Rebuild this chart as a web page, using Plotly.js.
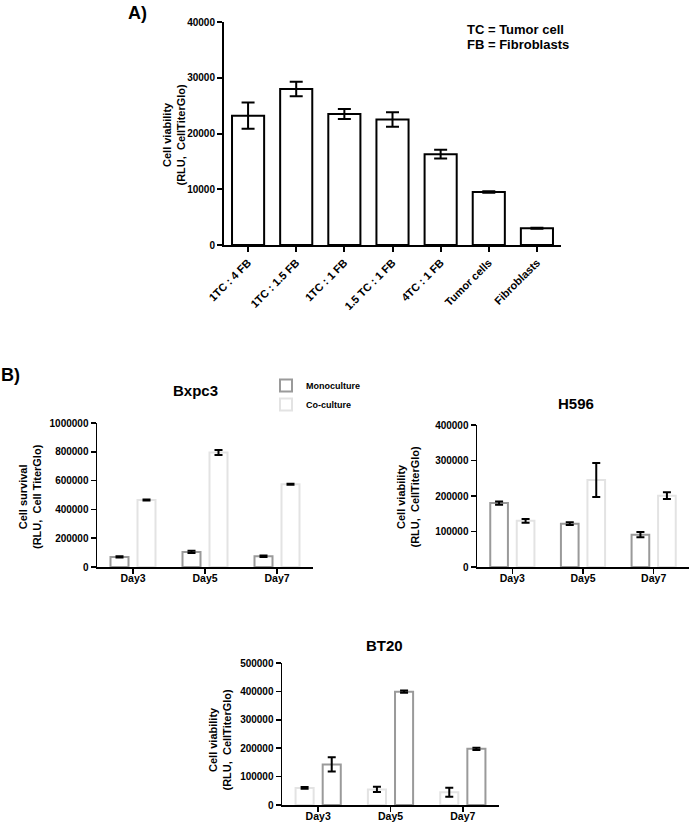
<!DOCTYPE html>
<html>
<head>
<meta charset="utf-8">
<script src="https://cdn.plot.ly/plotly-3.0.1.min.js"></script>
<style>html,body{margin:0;padding:0;background:#fff}#chart{width:691px;height:822px}</style>
</head>
<body>
<div id="chart"></div>
<script>
// ---- Data ----
const ratioCategories = ['1TC : 4 FB', '1TC : 1.5 FB', '1TC : 1 FB', '1.5 TC : 1 FB', '4TC : 1 FB', 'Tumor cells', 'Fibroblasts'];
const ratioValues = [23200, 28000, 23500, 22500, 16300, 9500, 3000];
const ratioErrors = [2350, 1300, 900, 1300, 800, 150, 100];

const days = ['Day3', 'Day5', 'Day7'];

const bxpc3Mono = [70000, 105000, 75000];
const bxpc3MonoErr = [4000, 8000, 5000];
const bxpc3Co = [465000, 795000, 575000];
const bxpc3CoErr = [4000, 18000, 3000];

const h596Mono = [180000, 122000, 91000];
const h596MonoErr = [4500, 4000, 7500];
const h596Co = [130000, 245000, 201000];
const h596CoErr = [5000, 48000, 9500];

const bt20First = [60000, 55000, 45000];
const bt20FirstErr = [3000, 9000, 16000];
const bt20Second = [143000, 399000, 198000];
const bt20SecondErr = [25000, 4000, 4000];

// ---- Helpers ----
const W = 691, H = 822;
const FONT = 'Liberation Sans, Arial, sans-serif';
const px = v => v / W;
const py = v => 1 - v / H;
const DARK = '#9a9a9a', LIGHT = '#e3e3e3';

function groupBar(x, y, err, color, xa, ya, offset, name, showlegend) {
  return {
    type: 'bar', x: x, y: y, xaxis: xa, yaxis: ya, name: name, showlegend: showlegend,
    width: 0.25, offset: offset,
    marker: {color: 'rgba(255,255,255,0)', line: {color: color, width: 2}},
    error_y: {type: 'data', array: err, visible: true, color: '#000', thickness: 2, width: 4}
  };
}

const traces = [
  {
    type: 'bar', x: ratioCategories, y: ratioValues, xaxis: 'x', yaxis: 'y', showlegend: false,
    width: 0.667,
    marker: {color: '#fff', line: {color: '#000', width: 2}},
    error_y: {type: 'data', array: ratioErrors, visible: true, color: '#000', thickness: 2, width: 6.5}
  },
  groupBar(days, bxpc3Mono, bxpc3MonoErr, DARK, 'x2', 'y2', -0.3125, 'Monoculture', true),
  groupBar(days, bxpc3Co, bxpc3CoErr, LIGHT, 'x2', 'y2', 0.0625, 'Co-culture', true),
  groupBar(days, h596Mono, h596MonoErr, DARK, 'x3', 'y3', -0.3125, 'Monoculture', false),
  groupBar(days, h596Co, h596CoErr, LIGHT, 'x3', 'y3', 0.0625, 'Co-culture', false),
  groupBar(days, bt20First, bt20FirstErr, LIGHT, 'x4', 'y4', -0.3125, 'Monoculture', false),
  groupBar(days, bt20Second, bt20SecondErr, DARK, 'x4', 'y4', 0.0625, 'Co-culture', false)
];

function xAxis(domain, anchor, range, angle, size, lw, standoff) {
  return {
    domain: domain, anchor: anchor, type: 'category', range: range,
    showline: true, linecolor: '#000', linewidth: lw, showgrid: false, zeroline: false,
    ticks: 'outside', ticklen: 5, tickwidth: lw, tickcolor: '#000',
    ticklabelstandoff: standoff,
    tickangle: angle, tickfont: {family: FONT, size: size, color: '#000', weight: 'bold'},
    fixedrange: true
  };
}
function yAxis(domain, anchor, range, dtick, lw) {
  return {
    domain: domain, anchor: anchor, range: range, dtick: dtick, tick0: 0,
    showline: true, linecolor: '#000', linewidth: lw, showgrid: false, zeroline: false,
    ticks: 'outside', ticklen: 5, tickwidth: lw, tickcolor: '#000',
    tickfont: {family: FONT, size: 10, color: '#000', weight: 'bold'},
    tickformat: 'd', fixedrange: true
  };
}

const ann = (x, y, text, size, extra) => Object.assign({
  xref: 'paper', yref: 'paper', x: px(x), y: py(y), text: text, showarrow: false,
  xanchor: 'center', yanchor: 'middle',
  font: {family: FONT, size: size, color: '#000', weight: 'bold'}
}, extra || {});

const layout = {
  width: W, height: H, autosize: false,
  margin: {l: 0, r: 0, t: 0, b: 0},
  paper_bgcolor: '#fff', plot_bgcolor: 'rgba(0,0,0,0)',
  barmode: 'overlay',
  font: {family: FONT, color: '#000'},
  xaxis: xAxis([px(224), px(561)], 'y', [-0.5, 6.5], -45, 11, 2, 0),
  yaxis: yAxis([py(245), py(22)], 'x', [0, 40000], 10000, 2),
  xaxis2: xAxis([px(97), px(313)], 'y2', [-0.5, 2.5], 0, 10.5, 1.5, -4),
  yaxis2: yAxis([py(567), py(423)], 'x2', [0, 1000000], 200000, 1.5),
  xaxis3: xAxis([px(477), px(689)], 'y3', [-0.5, 2.5], 0, 10.5, 1.5, -4),
  yaxis3: yAxis([py(567), py(425)], 'x3', [0, 400000], 100000, 1.5),
  xaxis4: xAxis([px(282), px(499)], 'y4', [-0.5, 2.5], 0, 10.5, 1.5, -4),
  yaxis4: yAxis([py(805), py(663)], 'x4', [0, 500000], 100000, 1.5),
  legend: {
    x: px(266), y: py(371), xanchor: 'left', yanchor: 'top',
    bgcolor: 'rgba(0,0,0,0)', tracegroupgap: 0,
    font: {family: FONT, size: 9, color: '#000', weight: 'bold'}
  },
  annotations: [
    ann(137, 13, 'A)', 18),
    ann(10, 375, 'B)', 18),
    ann(465, 29, 'TC = Tumor cell', 13, {xanchor: 'left'}),
    ann(465, 44, 'FB = Fibroblasts', 13, {xanchor: 'left'}),
    ann(173.5, 134, 'Cell viability<br>(RLU,  CellTiterGlo)', 11, {textangle: -90}),
    ann(195, 390, 'Bxpc3', 15),
    ann(576, 403, 'H596', 15),
    ann(384, 645, 'BT20', 15),
    ann(30, 497, 'Cell survival<br>(RLU,  Cell TiterGlo)', 11, {textangle: -90}),
    ann(407.5, 497, 'Cell viability<br>(RLU,  CellTiterGlo)', 11, {textangle: -90}),
    ann(219.5, 740, 'Cell viability<br>(RLU,  CellTiterGlo)', 11, {textangle: -90})
  ]
};

Plotly.newPlot('chart', traces, layout, {displayModeBar: false, staticPlot: true});
</script>
</body>
</html>
